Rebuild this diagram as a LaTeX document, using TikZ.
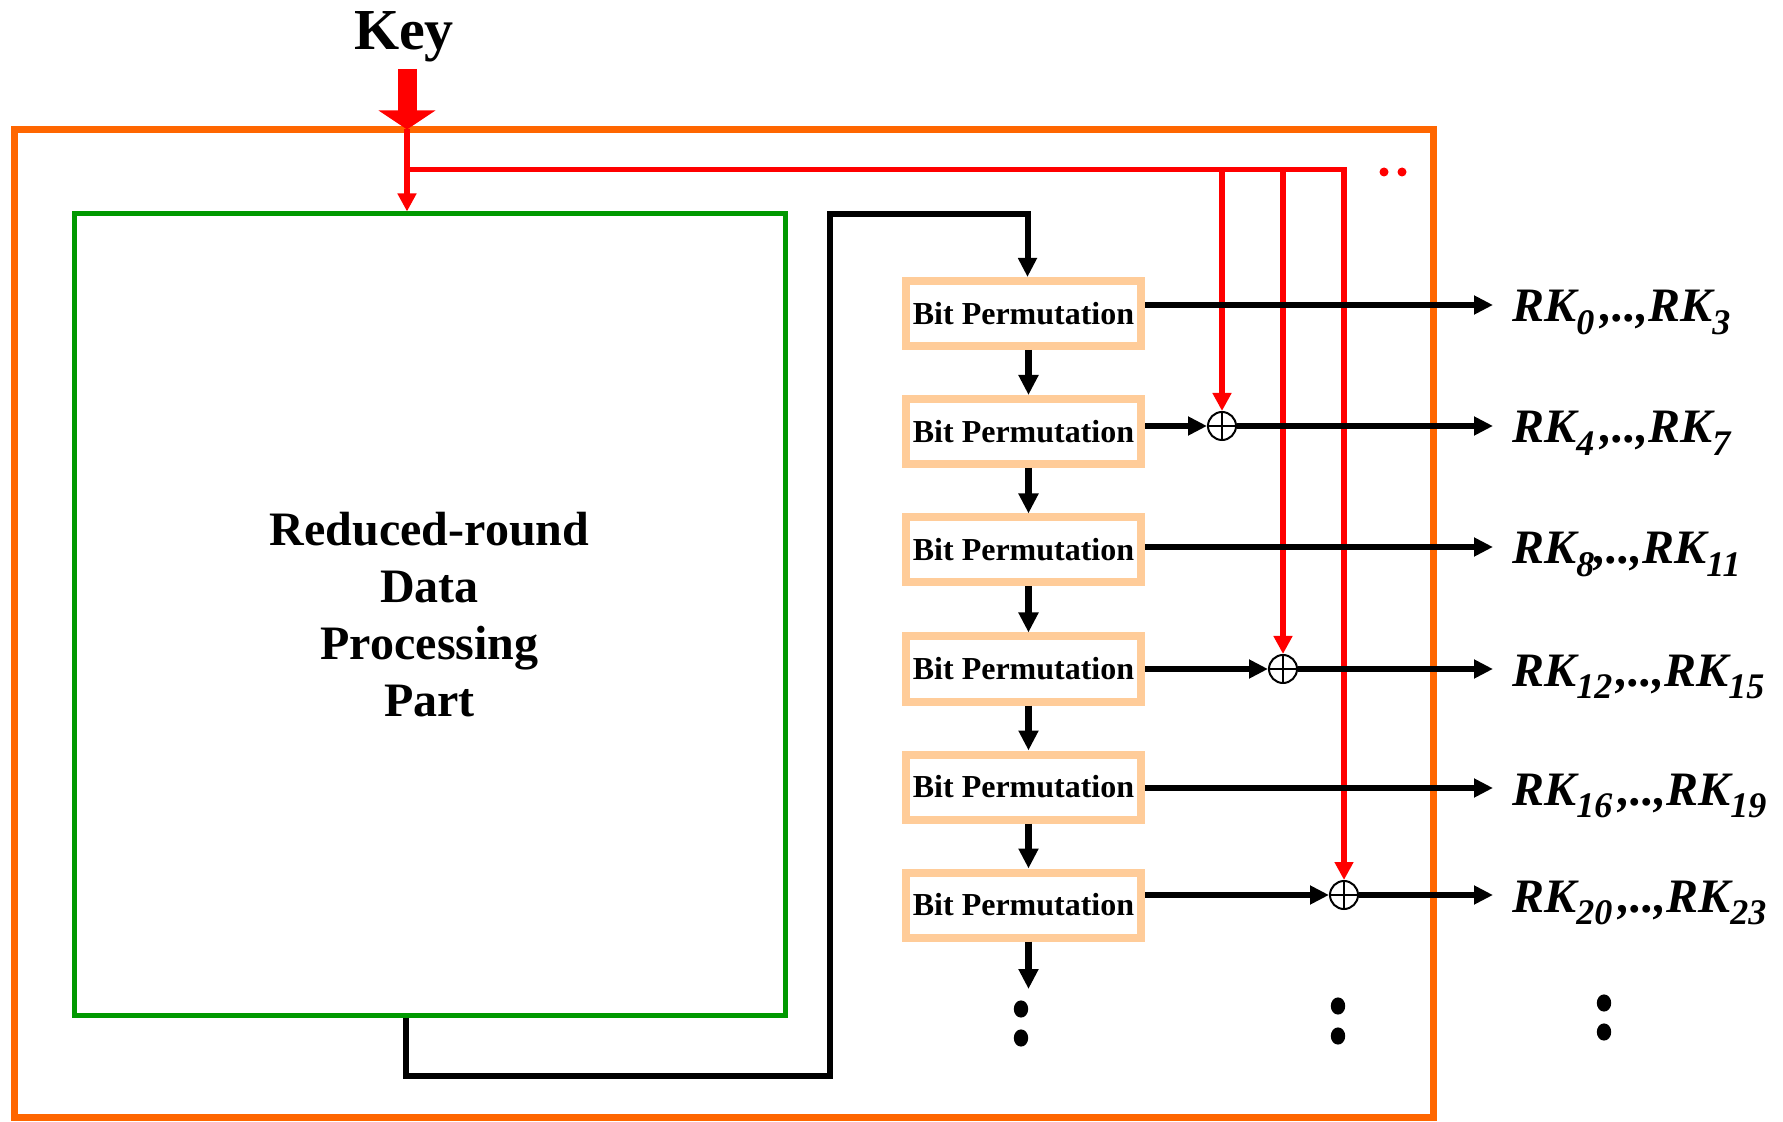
\documentclass[tikz,border=0pt]{standalone}
\usepackage{fontspec}
\setmainfont{Liberation Serif}
\usepackage{xcolor}
\usetikzlibrary{arrows.meta}

\definecolor{frameorange}{HTML}{FF6600}
\definecolor{partgreen}{HTML}{009900}
\definecolor{permpeach}{HTML}{FFCC99}
\newcommand{\lowsub}[1]{\raisebox{-0.26em}{\fontsize{18}{18}\selectfont #1}}

\begin{document}
\begin{tikzpicture}[
    x=0.5pt, y=-0.5pt,
    frame/.style={draw=frameorange, line width=3.5pt},
    partbox/.style={rectangle, draw=partgreen, line width=2.5pt, minimum width=355.5pt, minimum height=400.5pt, align=center, font=\fontsize{24}{28.5}\selectfont\bfseries},
    permbox/.style={rectangle, draw=permpeach, line width=4pt, minimum width=117.5pt, minimum height=32.5pt, inner sep=1pt, font=\fontsize{16}{19}\selectfont\bfseries},
    xorop/.style={circle, draw, line width=1pt, fill=white, minimum size=14pt, inner sep=0pt,
        path picture={\draw[line width=1pt] (path picture bounding box.north) -- (path picture bounding box.south)
            (path picture bounding box.west) -- (path picture bounding box.east);}},
    rklabel/.style={anchor=west, inner xsep=9.5pt, inner ysep=0pt, text height=17pt, text depth=0pt, font=\fontsize{24}{28}\selectfont\bfseries\itshape},
    arrow/.style={-{Triangle[width=9pt,length=9.5pt]}, line width=3pt},
    chainarrow/.style={-{Triangle[width=9.5pt,length=10pt]}, line width=3.3pt},
    redarrow/.style={-{Triangle[width=9pt,length=9pt]}, draw=red, line width=2.75pt},
    keyarrow/.style={-{Triangle[width=28pt,length=9.5pt]}, draw=red, line width=9.5pt}
]
\useasboundingbox (0,0) rectangle (1783,1122);

% Outer frame
\draw[frame] (14,129.5) rectangle (1433,1117.5);

% Data processing part
\node[partbox] (dpp) at (429.5,614.5) {Reduced-round\\Data\\Processing\\Part};

% Key input
\node[anchor=base, font=\fontsize{29}{34}\selectfont\bfseries] (key) at (404,50) {Key};
\coordinate (keytop) at (407,69);
\coordinate (keyin) at (407,129.5);
\coordinate (bus) at (407,169.5);

% Bit permutation chain
\node[permbox] (bp1) at (1023.5,313.5) {Bit Permutation};
\node[permbox] (bp2) at (1023.5,431.5) {Bit Permutation};
\node[permbox] (bp3) at (1023.5,550) {Bit Permutation};
\node[permbox] (bp4) at (1023.5,669) {Bit Permutation};
\node[permbox] (bp5) at (1023.5,787) {Bit Permutation};
\node[permbox] (bp6) at (1023.5,905) {Bit Permutation};
\coordinate (more) at (1028.5,989);

% XOR with key
\node[xorop] (x2) at (1222,426) {};
\node[xorop] (x4) at (1283,669) {};
\node[xorop] (x6) at (1344,895) {};

% Round keys
\node[rklabel] (rk1) at (1493,305) {RK\lowsub{0}\kern3pt,..,RK\lowsub{3}};
\node[rklabel] (rk2) at (1493,426) {RK\lowsub{4}\kern3pt,..,RK\lowsub{7}};
\node[rklabel] (rk3) at (1493,547) {RK\lowsub{8},..,RK\lowsub{11}};
\node[rklabel] (rk4) at (1493,669) {RK\lowsub{12}\kern2pt,..,RK\lowsub{15}};
\node[rklabel] (rk5) at (1493,788) {RK\lowsub{16}\kern3pt,..,RK\lowsub{19}};
\node[rklabel] (rk6) at (1493,895) {RK\lowsub{20}\kern3pt,..,RK\lowsub{23}};

% Key lines
\draw[keyarrow] (keytop) -- (keyin);
\draw[redarrow] (keyin) -- (keyin |- dpp.north);
\draw[redarrow] (bus) -| (x6.north);
\draw[redarrow] (bus -| x2) -- (x2.north);
\draw[redarrow] (bus -| x4) -- (x4.north);
\fill[red] (1384,172) circle [radius=2.25pt];
\fill[red] (1402,172) circle [radius=2.25pt];

% Feedback
\coordinate (fbdown) at (406,1076);
\coordinate (fbup) at (830,214);
\draw[arrow] (fbdown |- dpp.south) -- (fbdown) -| (fbup) -| ([xshift=2pt]bp1.north);

% Arrows down the chain
\draw[chainarrow] ([xshift=2.5pt]bp1.south) -- ([xshift=2.5pt]bp2.north);
\draw[chainarrow] ([xshift=2.5pt]bp2.south) -- ([xshift=2.5pt]bp3.north);
\draw[chainarrow] ([xshift=2.5pt]bp3.south) -- ([xshift=2.5pt]bp4.north);
\draw[chainarrow] ([xshift=2.5pt]bp4.south) -- ([xshift=2.5pt]bp5.north);
\draw[chainarrow] ([xshift=2.5pt]bp5.south) -- ([xshift=2.5pt]bp6.north);
\draw[chainarrow] ([xshift=2.5pt]bp6.south) -- (more);

% Outputs
\draw[arrow] (bp1.east |- rk1.west) -- (rk1.west);
\draw[arrow] (bp2.east |- x2) -- (x2.west);
\draw[arrow] (x2.east) -- (rk2.west);
\draw[arrow] (bp3.east |- rk3.west) -- (rk3.west);
\draw[arrow] (bp4.east |- x4) -- (x4.west);
\draw[arrow] (x4.east) -- (rk4.west);
\draw[arrow] (bp5.east |- rk5.west) -- (rk5.west);
\draw[arrow] (bp6.east |- x6) -- (x6.west);
\draw[arrow] (x6.east) -- (rk6.west);

% Continuation dots
\fill (1021,1009) ellipse [x radius=3.6pt, y radius=4.3pt];
\fill (1021,1038) ellipse [x radius=3.6pt, y radius=4.3pt];
\fill (1338,1006) ellipse [x radius=3.6pt, y radius=4.3pt];
\fill (1338,1036) ellipse [x radius=3.6pt, y radius=4.3pt];
\fill (1604,1003) ellipse [x radius=3.6pt, y radius=4.3pt];
\fill (1604,1032) ellipse [x radius=3.6pt, y radius=4.3pt];

\end{tikzpicture}
\end{document}
